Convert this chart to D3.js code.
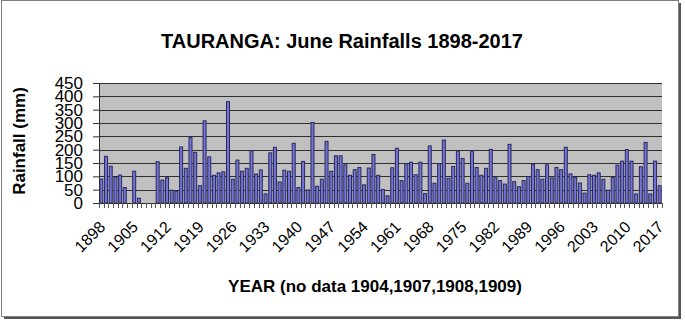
<!DOCTYPE html>
<html><head><meta charset="utf-8">
<script src="https://cdn.jsdelivr.net/npm/d3@7"></script>
<style>body{margin:0;background:#fff}svg{display:block;font-family:"Liberation Sans",Arial,sans-serif}</style>
</head><body>
<script>
const years = d3.range(1898, 2018);
const rainfall = [
90,175,138,97,105,58,null,119,18,null,
null,null,155,86,95,48,44,210,130,246,
190,65,308,173,104,113,117,380,89,161,
119,130,196,109,124,34,188,209,79,123,
119,224,58,156,49,302,63,89,231,119,
177,177,143,104,125,133,68,131,182,104,
51,27,132,205,84,147,153,106,153,35,
214,74,147,236,93,137,195,167,74,195,
133,104,130,201,95,84,71,220,80,61,
84,99,146,125,89,143,94,133,125,209,
109,96,75,37,106,104,113,89,48,96,
142,157,200,157,34,136,227,34,157,65];
const yTicks = [0,50,100,150,200,250,300,350,400,450];
const xLabelYears = years.filter(y => (y - 1898) % 7 === 0);
const title = "TAURANGA: June Rainfalls 1898-2017";
const xTitle = "YEAR (no data 1904,1907,1908,1909)";
const yTitle = "Rainfall (mm)";

(function () {
const W = 685, H = 323;
const svg = d3.select("body").append("svg").attr("width", W).attr("height", H);

// frame with shadow
svg.append("rect").attr("x", 4).attr("y", 3).attr("width", 677).attr("height", 316).attr("fill", "#555");
svg.append("rect").attr("x", 1.5).attr("y", 0.5).attr("width", 677).attr("height", 316)
  .attr("fill", "#fff").attr("stroke", "#808080");

const pL = 99, pR = 662, pT = 83, pB = 203;
const x = d3.scaleBand().domain(years).range([pL, pR]).paddingInner(0.36).paddingOuter(0.18);
const y = d3.scaleLinear().domain([0, 450]).range([pB, pT]);

svg.append("rect").attr("x", pL).attr("y", pT).attr("width", pR - pL).attr("height", pB - pT)
  .attr("fill", "#c0c0c0");

// gridlines
svg.append("g").selectAll("line").data(yTicks.filter(d => d > 0)).join("line")
  .attr("x1", pL).attr("x2", pR)
  .attr("y1", d => Math.round(y(d)) + 0.5).attr("y2", d => Math.round(y(d)) + 0.5)
  .attr("stroke", "#303030").attr("stroke-width", 1);

// bars
const data = years.map((yr, i) => ({yr, v: rainfall[i]})).filter(d => d.v != null);
svg.append("g").selectAll("rect").data(data).join("rect")
  .attr("x", d => x(d.yr)).attr("width", x.bandwidth())
  .attr("y", d => y(d.v)).attr("height", d => y(0) - y(d.v))
  .attr("fill", "#7373d4").attr("stroke", "#2a2a60").attr("stroke-width", 1);

// y axis
const yAxis = svg.append("g").attr("transform", `translate(${pL},0)`)
  .call(d3.axisLeft(y).tickValues(yTicks).tickSize(6).tickPadding(10));
yAxis.select(".domain").attr("stroke", "#303030");
yAxis.selectAll(".tick line").attr("stroke", "#303030");
yAxis.selectAll("text").attr("font-size", 17).attr("fill", "#000")
  .attr("font-family", '"Liberation Sans",Arial,sans-serif');

// x axis baseline and ticks between categories
const step = x.step();
svg.append("line").attr("x1", pL).attr("x2", pR).attr("y1", pB + 0.5).attr("y2", pB + 0.5)
  .attr("stroke", "#303030");
const tickPos = years.map(yr => x(yr) - (step - x.bandwidth()) / 2).concat([pR]);
svg.append("g").selectAll("line").data(tickPos).join("line")
  .attr("x1", d => Math.round(d) + 0.5).attr("x2", d => Math.round(d) + 0.5)
  .attr("y1", pB).attr("y2", pB + 5).attr("stroke", "#555");

// x labels
svg.append("g").selectAll("text").data(xLabelYears).join("text")
  .attr("transform", d => `translate(${x(d) + x.bandwidth() / 2 + 1},${224}) rotate(-45)`)
  .attr("text-anchor", "end").attr("dy", "0.35em")
  .attr("font-size", 16).text(d => d);

// titles
svg.append("text").attr("x", 342).attr("y", 48).attr("text-anchor", "middle")
  .attr("font-size", 20).attr("font-weight", "bold").text(title);
svg.append("text").attr("x", 375).attr("y", 292).attr("text-anchor", "middle")
  .attr("font-size", 17).attr("font-weight", "bold").text(xTitle);
svg.append("text").attr("transform", "translate(25,141) rotate(-90)").attr("text-anchor", "middle")
  .attr("font-size", 17).attr("font-weight", "bold").text(yTitle);
})();
</script>
</body></html>
